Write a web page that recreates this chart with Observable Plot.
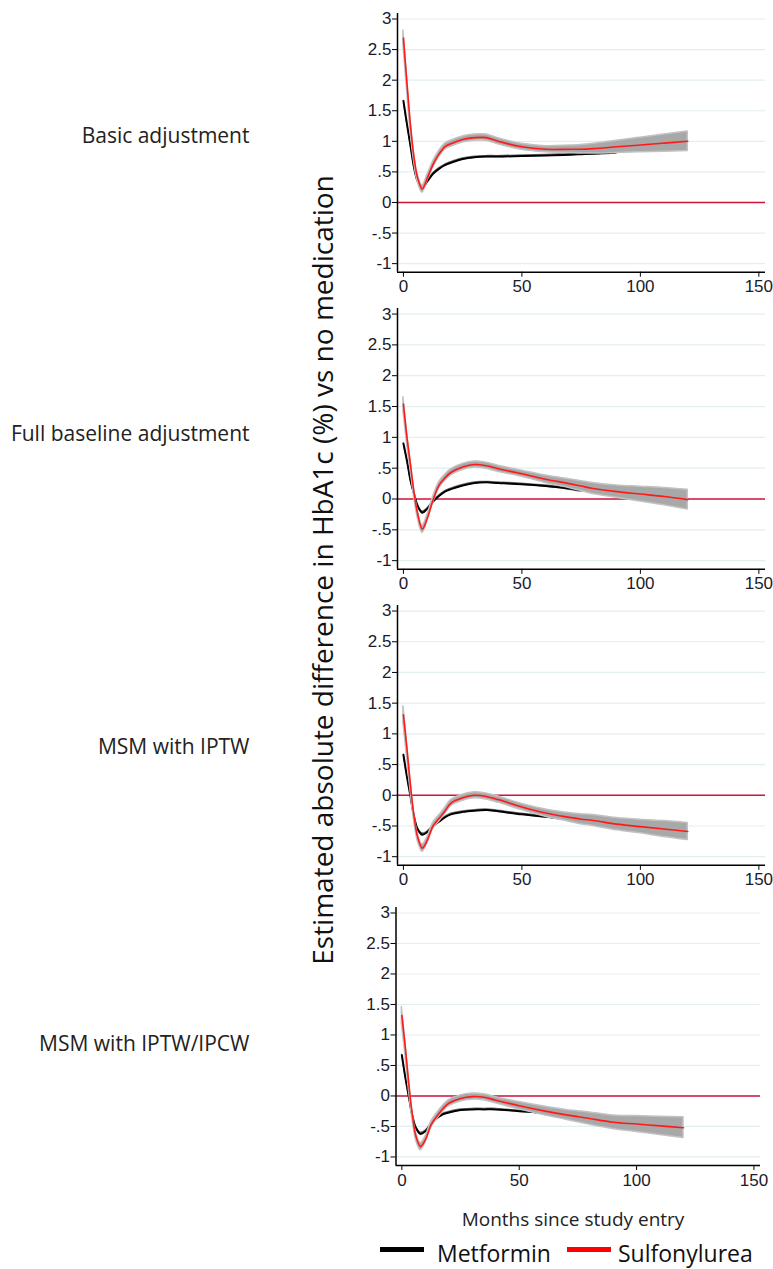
<!DOCTYPE html>
<html><head><meta charset="utf-8">
<script src="https://cdn.jsdelivr.net/npm/d3@7"></script>
<script src="https://cdn.jsdelivr.net/npm/@observablehq/plot@0.6"></script>
<style>
body{margin:0;background:#fff;}
#root{position:relative;width:773px;height:1269px;overflow:hidden;font-family:"Open Sans",sans-serif;}
.lbl{position:absolute;white-space:nowrap;line-height:1;color:#222;}
.pan{position:absolute;left:0;}
.sw{position:absolute;}
</style></head><body><div id="root"></div><script>
// ---------------- data ----------------
const panelNames = ["Basic adjustment", "Full baseline adjustment", "MSM with IPTW", "MSM with IPTW/IPCW"];
const seriesNames = ["Metformin", "Sulfonylurea"];
const months = [0,1.5,3,4.5,6,8,10,12.5,15,17.5,20,25,30,35,40,50,60,70,75,80,90,100,110,120];
const xTicks = [0, 50, 100, 150];
const yTicks = [-1, -0.5, 0, 0.5, 1, 1.5, 2, 2.5, 3];
const yTickLabels = ["-1", "-.5", "0", ".5", "1", "1.5", "2", "2.5", "3"];

// Sulfonylurea estimates and CI half-widths
const sulfBasic = [2.69,1.95,1.25,0.73,0.40,0.22,0.39,0.62,0.79,0.91,0.96,1.03,1.06,1.06,1.00,0.91,0.87,0.87,0.87,0.88,0.91,0.94,0.97,1.00];
const sulfBasicCI = [0.12,0.10,0.08,0.06,0.06,0.06,0.05,0.05,0.05,0.05,0.05,0.05,0.05,0.05,0.05,0.05,0.05,0.06,0.07,0.08,0.10,0.12,0.14,0.16];
const sulfFull = [1.54,1.00,0.55,0.10,-0.24,-0.49,-0.32,-0.02,0.22,0.34,0.43,0.52,0.56,0.54,0.49,0.41,0.32,0.25,0.21,0.17,0.12,0.08,0.04,-0.01];
const sulfFullCI = [0.11,0.09,0.07,0.06,0.06,0.06,0.05,0.05,0.05,0.05,0.05,0.05,0.05,0.05,0.05,0.05,0.06,0.07,0.08,0.09,0.10,0.12,0.14,0.16];
const sulfIPTW = [1.31,0.75,0.15,-0.35,-0.68,-0.86,-0.74,-0.50,-0.38,-0.26,-0.13,-0.04,0.00,-0.02,-0.07,-0.19,-0.29,-0.36,-0.39,-0.41,-0.47,-0.51,-0.55,-0.59];
const sulfIPTWCI = [0.14,0.11,0.08,0.06,0.06,0.06,0.05,0.05,0.05,0.05,0.05,0.05,0.05,0.05,0.05,0.05,0.06,0.07,0.08,0.09,0.10,0.11,0.13,0.14];
const sulfIPCW = [1.32,0.78,0.18,-0.32,-0.66,-0.83,-0.72,-0.47,-0.33,-0.21,-0.12,-0.04,-0.01,-0.02,-0.07,-0.16,-0.24,-0.31,-0.34,-0.37,-0.43,-0.46,-0.49,-0.52];
const sulfIPCWCI = [0.14,0.11,0.08,0.06,0.06,0.06,0.05,0.05,0.05,0.05,0.05,0.05,0.05,0.05,0.05,0.06,0.07,0.08,0.09,0.10,0.11,0.13,0.15,0.17];

// Metformin estimates and CI half-widths (null = not estimated)
const metBasic = [1.66,1.28,0.92,0.57,0.35,0.25,0.34,0.47,0.55,0.61,0.65,0.71,0.74,0.75,0.75,0.76,0.77,0.78,0.79,0.80,0.82,null,null,null];
const metBasicCI = [0.04,0.03,0.03,0.03,0.03,0.03,0.02,0.02,0.02,0.02,0.02,0.02,0.02,0.02,0.02,0.02,0.02,0.02,0.02,0.03,0.03,null,null,null];
const metFull = [0.90,0.62,0.30,0.08,-0.11,-0.22,-0.16,-0.04,0.05,0.12,0.16,0.22,0.26,0.27,0.26,0.24,0.21,0.17,0.14,null,null,null,null,null];
const metFullCI = [0.04,0.03,0.03,0.03,0.03,0.03,0.02,0.02,0.02,0.02,0.02,0.02,0.02,0.02,0.02,0.02,0.02,0.03,0.03,null,null,null,null,null];
const metIPTW = [0.66,0.30,-0.02,-0.35,-0.55,-0.64,-0.60,-0.50,-0.43,-0.36,-0.31,-0.27,-0.25,-0.24,-0.26,-0.31,-0.35,-0.39,-0.40,-0.42,null,null,null,null];
const metIPTWCI = [0.04,0.03,0.03,0.03,0.03,0.03,0.02,0.02,0.02,0.02,0.02,0.02,0.02,0.02,0.02,0.02,0.02,0.03,0.03,0.03,null,null,null,null];
const metIPCW = [0.67,0.30,-0.02,-0.33,-0.52,-0.62,-0.58,-0.45,-0.36,-0.30,-0.27,-0.23,-0.22,-0.22,-0.22,-0.25,-0.27,null,null,null,null,null,null,null];
const metIPCWCI = [0.04,0.03,0.03,0.03,0.03,0.03,0.02,0.02,0.02,0.02,0.02,0.02,0.02,0.02,0.02,0.02,0.03,null,null,null,null,null,null,null];

const sulfAll = [sulfBasic, sulfFull, sulfIPTW, sulfIPCW];
const sulfCIAll = [sulfBasicCI, sulfFullCI, sulfIPTWCI, sulfIPCWCI];
const metAll = [metBasic, metFull, metIPTW, metIPCW];
const metCIAll = [metBasicCI, metFullCI, metIPTWCI, metIPCWCI];

// ---------------- layout ----------------
const frameTop = [13, 307.8, 604.5, 907.2];
const frameBottom = [271.7, 568.6, 864.3, 1165.2];
const frameLeft = [397, 397, 397, 395.5];
const frameRight = [765, 765, 765, 760];
const labelY = [135, 433, 746, 1043];
const xDom = [-2.5, 152.8];
const yDom = [-1.14, 3.09];
const MT = 10, MB = 32;
const curve = "catmull-rom";
const tickFont = "'Liberation Sans', Arial, sans-serif";
const tickColor = "#1a1a2a";

const root = document.getElementById("root");
const tickMap = new Map(yTicks.map((t, k) => [t, yTickLabels[k]]));

for (let i = 0; i < 4; i++) {
  const rows = months.map((m, j) => ({
    m,
    s: sulfAll[i][j], sLo: sulfAll[i][j] - sulfCIAll[i][j], sHi: sulfAll[i][j] + sulfCIAll[i][j],
    met: metAll[i][j],
    mLo: metAll[i][j] == null ? null : metAll[i][j] - metCIAll[i][j],
    mHi: metAll[i][j] == null ? null : metAll[i][j] + metCIAll[i][j]
  }));
  const metRows = rows.filter(d => d.met != null);
  const H = frameBottom[i] - frameTop[i] + MT + MB;
  const chart = Plot.plot({
    width: 773, height: H,
    marginTop: MT, marginBottom: MB, marginLeft: frameLeft[i], marginRight: 773 - frameRight[i],
    style: {background: "transparent", overflow: "visible", fontFamily: tickFont, color: tickColor},
    x: {domain: xDom},
    y: {domain: yDom},
    marks: [
      Plot.ruleY(yTicks, {stroke: "#e4eef0", strokeWidth: 1.2}),
      Plot.ruleY([0], {stroke: "#d0143c", strokeWidth: 1.5}),
      Plot.areaY(metRows, {x: "m", y1: "mLo", y2: "mHi", fill: "#707070", curve}),
      Plot.lineY(metRows, {x: "m", y: "met", stroke: "#000", strokeWidth: 2, curve}),
      Plot.areaY(rows, {x: "m", y1: "sLo", y2: "sHi", fill: "#a8a8a8", stroke: "#c2c2c2", strokeWidth: 1.5, curve}),
      Plot.lineY(rows, {x: "m", y: "s", stroke: "#ff1a1a", strokeWidth: 1.6, curve}),
      Plot.ruleX([xDom[0]], {stroke: "#000", strokeWidth: 1.5}),
      Plot.ruleY([yDom[0]], {stroke: "#000", strokeWidth: 1.5}),
      Plot.axisX(xTicks, {tickSize: 5, tickPadding: 3, fontSize: 17, label: null, stroke: "#000"}),
      Plot.axisY(yTicks, {tickSize: 5, tickPadding: 1, fontSize: 17, label: null, tickFormat: d => tickMap.get(d), stroke: "#000"})
    ]
  });
  const wrap = document.createElement("div");
  wrap.className = "pan";
  wrap.style.top = (frameTop[i] - MT) + "px";
  wrap.appendChild(chart);
  root.appendChild(wrap);

  const lab = document.createElement("div");
  lab.className = "lbl";
  lab.textContent = panelNames[i];
  lab.style.cssText += `left:249.5px;top:${labelY[i]}px;font-size:21px;transform:translate(-100%,-50%);`;
  root.appendChild(lab);
}

function addText(txt, x, y, size, transform, color) {
  const d = document.createElement("div");
  d.className = "lbl";
  d.textContent = txt;
  d.style.cssText += `left:${x}px;top:${y}px;font-size:${size}px;transform:${transform};color:${color || "#222"};`;
  root.appendChild(d);
}
addText("Estimated absolute difference in HbA1c (%) vs no medication", 322, 570, 28, "translate(-50%,-50%) rotate(-90deg)", "#111");
addText("Months since study entry", 573, 1219, 19, "translate(-50%,-50%)");

// legend
const swColors = ["#000", "#ff0000"];
const swX = [380, 567];
const txtX = [437, 618];
for (let k = 0; k < 2; k++) {
  const s = document.createElement("div");
  s.className = "sw";
  s.style.cssText = `left:${swX[k]}px;top:1247px;width:44px;height:5px;background:${swColors[k]};position:absolute;`;
  root.appendChild(s);
  addText(seriesNames[k], txtX[k], 1253, 23, "translate(0,-50%)", "#111");
}
</script></body></html>
